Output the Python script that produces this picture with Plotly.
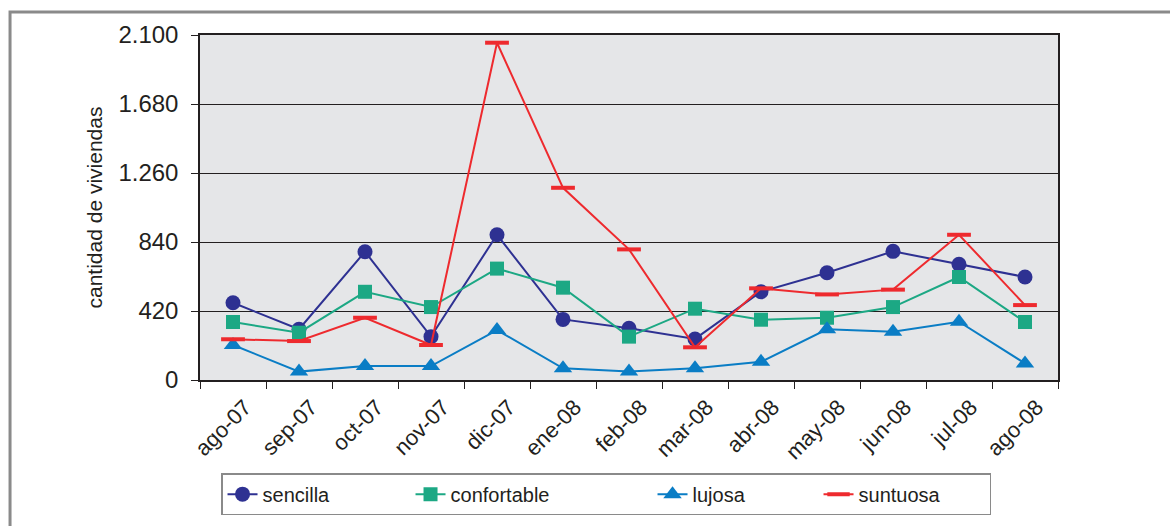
import plotly.graph_objects as go

months = ["ago-07", "sep-07", "oct-07", "nov-07", "dic-07", "ene-08", "feb-08",
          "mar-08", "abr-08", "may-08", "jun-08", "jul-08", "ago-08"]

sencilla = [470, 309, 781, 264, 884, 369, 315, 250, 537, 653, 783, 704, 627]
confortable = [353, 288, 537, 444, 678, 562, 264, 434, 367, 379, 444, 627, 353]
lujosa = [213, 51, 85, 85, 304, 71, 51, 71, 111, 309, 294, 355, 101]
suntuosa = [248, 237, 379, 213, 2053, 1170, 795, 199, 558, 521, 550, 884, 456]

y_ticks = [0, 420, 840, 1260, 1680, 2100]
y_tick_text = ["0", "420", "840", "1.260", "1.680", "2.100"]

FONT = "Liberation Sans, Arial, sans-serif"
TXT = "#231F20"

fig = go.Figure()
fig.add_trace(go.Scatter(x=months, y=sencilla, name="sencilla", mode="lines+markers",
                         legendwidth=143,
                         line=dict(color="#2E3192", width=2),
                         marker=dict(symbol="circle", size=15, color="#2E3192")))
fig.add_trace(go.Scatter(x=months, y=confortable, name="confortable", mode="lines+markers",
                         legendwidth=197,
                         line=dict(color="#1CA884", width=2),
                         marker=dict(symbol="square", size=14, color="#1CA884")))
fig.add_trace(go.Scatter(x=months, y=lujosa, name="lujosa", mode="lines+markers",
                         legendwidth=121,
                         line=dict(color="#0A7DC5", width=2),
                         marker=dict(symbol="triangle-up", size=16, color="#0A7DC5")))
fig.add_trace(go.Scatter(x=months, y=suntuosa, name="suntuosa", mode="lines+markers",
                         legendwidth=126,
                         line=dict(color="#EE2A2E", width=2),
                         marker=dict(symbol="line-ew", size=17, color="#EE2A2E",
                                     line=dict(width=4, color="#EE2A2E"))))

# outer frame (only left and top edges visible in the reference)
fig.add_shape(type="rect", xref="paper", yref="paper",
              x0=-0.2214, x1=1.2, y0=-0.5, y1=1.0667,
              line=dict(color="#8A8A8A", width=3), fillcolor="rgba(0,0,0,0)", layer="below")

fig.update_layout(
    width=1170, height=526,
    margin=dict(l=200, r=112, t=35, b=146, autoexpand=False),
    paper_bgcolor="white",
    plot_bgcolor="#E5E6E8",
    font=dict(family=FONT, color=TXT),
    showlegend=True,
    legend=dict(orientation="h", x=0.0245, y=-0.27, xanchor="left", yanchor="top",
                bgcolor="white", bordercolor="#8A8A8A", borderwidth=1.5,
                font=dict(size=20, family=FONT, color=TXT)),
    xaxis=dict(type="category", categoryorder="array", categoryarray=months,
               tickson="boundaries", ticks="outside", ticklen=7, tickcolor="#231F20",
               tickangle=-45, tickfont=dict(size=22), automargin=False,
               ticklabelshift=12, ticklabelstandoff=4,
               showline=True, linecolor="#231F20", linewidth=1.5, mirror=True,
               showgrid=False, range=[-0.5, 12.5]),
    yaxis=dict(range=[0, 2100], tickvals=y_ticks, ticktext=y_tick_text,
               ticks="outside", ticklen=7, tickcolor="#231F20",
               tickfont=dict(size=24), automargin=False, ticklabelstandoff=8,
               showline=True, linecolor="#231F20", linewidth=1.5, mirror=True,
               showgrid=True, gridcolor="#231F20", gridwidth=1.3, zeroline=False,
               title=dict(text="cantidad de viviendas", font=dict(size=21), standoff=10)),
)

fig.write_html("out.html", config={"displayModeBar": False},
               post_script="document.body.style.margin='0';document.body.style.overflow='hidden';")
